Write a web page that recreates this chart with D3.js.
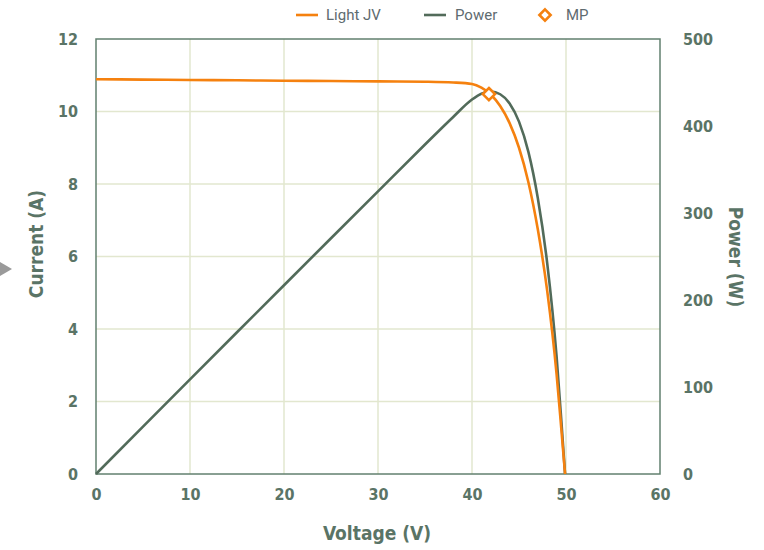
<!DOCTYPE html>
<html>
<head>
<meta charset="utf-8">
<script src="https://cdn.jsdelivr.net/npm/d3@7"></script>
<style>
  html, body { margin: 0; padding: 0; background: #ffffff; }
  svg { display: block; }
</style>
</head>
<body>
<svg id="chart" width="764" height="550"></svg>
<script>
// Solar module light I-V sweep and the matching power curve
const voltage = [0, 5, 10, 15, 20, 25, 30, 35, 38, 40, 41, 42, 43, 44, 45, 46, 47, 48, 49, 49.5, 49.9];
const current = [10.89, 10.88, 10.87, 10.86, 10.85, 10.84, 10.83, 10.82, 10.80, 10.76, 10.66, 10.47, 10.15, 9.68, 9.0, 8.05, 6.75, 5.05, 2.75, 1.25, 0];
const power   = [0, 54.4, 108.7, 162.9, 217, 271, 324.9, 378.7, 410.4, 430.4, 437.1, 439.7, 436.5, 425.9, 405, 370.3, 317.3, 242.4, 134.8, 61.9, 0];
const maxPower = { v: 41.8, i: 10.48 };

const xTicks = [0, 10, 20, 30, 40, 50, 60];
const yTicks = [0, 2, 4, 6, 8, 10, 12];
const y2Ticks = [0, 100, 200, 300, 400, 500];

const seriesNames = ["Light JV", "Power", "MP"];

const orange = "#f5810f";
const green = "#526b5a";
const textColor = "#5a7466";
const gridColor = "#e2e7cf";
const frameColor = "#62806f";

const svg = d3.select("#chart");
const m = { left: 96, right: 660, top: 39, bottom: 474 };

const x = d3.scaleLinear().domain([0, 60]).range([m.left, m.right]);
const y = d3.scaleLinear().domain([0, 12]).range([m.bottom, m.top]);
const y2 = d3.scaleLinear().domain([0, 500]).range([m.bottom, m.top]);

const tickFont = "'Liberation Sans Narrow', 'DejaVu Sans Condensed', sans-serif";

// grid
const grid = svg.append("g");
grid.selectAll("line.gx").data(xTicks.slice(1, -1)).join("line")
  .attr("x1", d => x(d)).attr("x2", d => x(d))
  .attr("y1", m.top).attr("y2", m.bottom)
  .attr("stroke", gridColor).attr("stroke-width", 1.5);
grid.selectAll("line.gy").data(yTicks.slice(1, -1)).join("line")
  .attr("x1", m.left).attr("x2", m.right)
  .attr("y1", d => y(d)).attr("y2", d => y(d))
  .attr("stroke", gridColor).attr("stroke-width", 1.5);

// frame
svg.append("rect")
  .attr("x", m.left).attr("y", m.top)
  .attr("width", m.right - m.left).attr("height", m.bottom - m.top)
  .attr("fill", "none").attr("stroke", frameColor).attr("stroke-width", 1.5);

// axes
function styleAxis(g) {
  g.select(".domain").remove();
  g.selectAll(".tick line").remove();
  g.selectAll(".tick text")
    .attr("fill", textColor)
    .attr("font-family", tickFont)
    .attr("font-weight", "bold")
    .attr("font-size", 16);
}
svg.append("g")
  .attr("transform", `translate(0,${m.bottom})`)
  .call(d3.axisBottom(x).tickValues(xTicks).tickSize(0).tickPadding(15))
  .call(styleAxis);
svg.append("g")
  .attr("transform", `translate(${m.left},0)`)
  .call(d3.axisLeft(y).tickValues(yTicks).tickSize(0).tickPadding(18))
  .call(styleAxis);
svg.append("g")
  .attr("transform", `translate(${m.right},0)`)
  .call(d3.axisRight(y2).tickValues(y2Ticks).tickSize(0).tickPadding(23))
  .call(styleAxis);

// axis titles
svg.append("text")
  .attr("x", 377).attr("y", 540)
  .attr("text-anchor", "middle")
  .attr("fill", textColor).attr("font-family", tickFont)
  .attr("font-weight", "bold").attr("font-size", 19)
  .text("Voltage (V)");
svg.append("text")
  .attr("transform", "translate(43,244) rotate(-90)")
  .attr("text-anchor", "middle")
  .attr("fill", textColor).attr("font-family", tickFont)
  .attr("font-weight", "bold").attr("font-size", 19)
  .text("Current (A)");
svg.append("text")
  .attr("transform", "translate(729,257) rotate(90)")
  .attr("text-anchor", "middle")
  .attr("fill", textColor).attr("font-family", tickFont)
  .attr("font-weight", "bold").attr("font-size", 19)
  .text("Power (W)");

// curves
const jvLine = d3.line()
  .x((d, i) => x(voltage[i]))
  .y(d => y(d))
  .curve(d3.curveMonotoneX);
const pLine = d3.line()
  .x((d, i) => x(voltage[i]))
  .y(d => y2(d))
  .curve(d3.curveMonotoneX);

svg.append("path")
  .datum(power)
  .attr("d", pLine)
  .attr("fill", "none").attr("stroke", green).attr("stroke-width", 2.6);
svg.append("path")
  .datum(current)
  .attr("d", jvLine)
  .attr("fill", "none").attr("stroke", orange).attr("stroke-width", 2.6);

// maximum power point
const diamond = d3.symbol().type(d3.symbolDiamond2).size(95);
svg.append("path")
  .attr("d", diamond())
  .attr("transform", `translate(${x(maxPower.v)},${y(maxPower.i)})`)
  .attr("fill", "#ffffff").attr("stroke", orange).attr("stroke-width", 2.6);

// legend
const legend = svg.append("g").attr("font-family", "Roboto, sans-serif").attr("font-size", 15).attr("fill", "#5e6b70");
legend.append("line").attr("x1", 296).attr("x2", 318).attr("y1", 15).attr("y2", 15)
  .attr("stroke", orange).attr("stroke-width", 2.6);
legend.append("text").attr("x", 326).attr("y", 20).text(seriesNames[0]);
legend.append("line").attr("x1", 424).attr("x2", 446).attr("y1", 15).attr("y2", 15)
  .attr("stroke", green).attr("stroke-width", 2.6);
legend.append("text").attr("x", 455).attr("y", 20).text(seriesNames[1]);
legend.append("path").attr("d", d3.symbol().type(d3.symbolDiamond2).size(80)())
  .attr("transform", "translate(545,15)")
  .attr("fill", "#ffffff").attr("stroke", orange).attr("stroke-width", 2.6);
legend.append("text").attr("x", 566).attr("y", 20).text(seriesNames[2]);

// side panel handle
svg.append("path")
  .attr("d", "M0,262 L12,269 L0,276 Z")
  .attr("fill", "#9a9a9a");
</script>
</body>
</html>
